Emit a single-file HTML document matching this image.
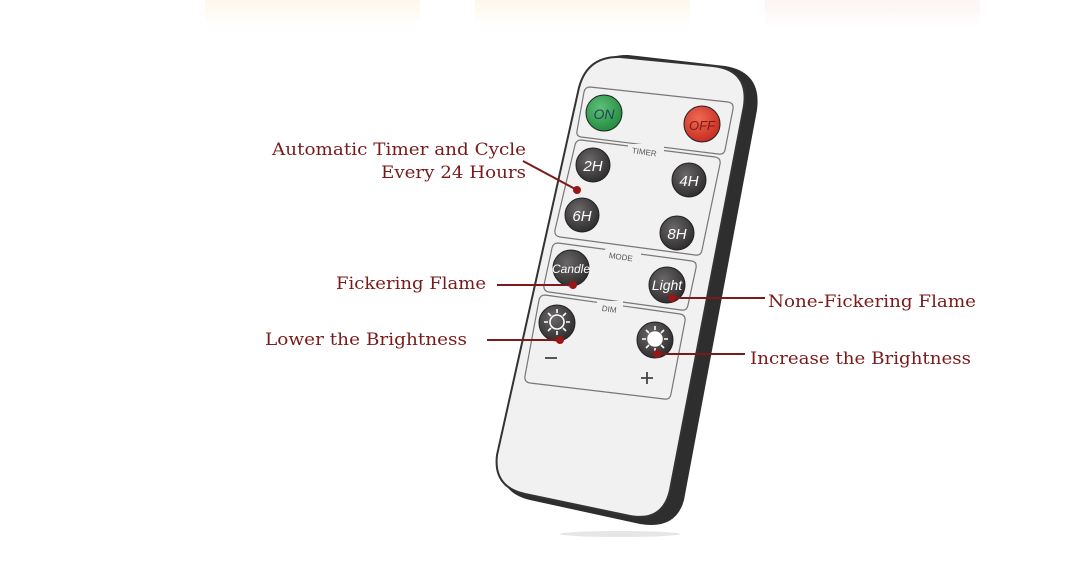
<!DOCTYPE html>
<html><head><style>
body{margin:0;width:1080px;height:583px;background:#fff;overflow:hidden;}
svg{display:block}
</style></head><body>
<svg width="1080" height="583" viewBox="0 0 1080 583" xmlns="http://www.w3.org/2000/svg">
<defs>
<linearGradient id="t1" x1="0" y1="0" x2="0" y2="1"><stop offset="0" stop-color="#fdf8ea"/><stop offset="1" stop-color="#fff"/></linearGradient>
<linearGradient id="t3" x1="0" y1="0" x2="0" y2="1"><stop offset="0" stop-color="#fbf4f2"/><stop offset="1" stop-color="#fff"/></linearGradient>
<radialGradient id="g" cx="0.4" cy="0.35" r="0.7"><stop offset="0" stop-color="#5fbf7a"/><stop offset="1" stop-color="#1f8a3c"/></radialGradient>
<radialGradient id="r" cx="0.4" cy="0.35" r="0.7"><stop offset="0" stop-color="#f06a55"/><stop offset="1" stop-color="#c42a1e"/></radialGradient>
<radialGradient id="k" cx="0.4" cy="0.35" r="0.7"><stop offset="0" stop-color="#6a6868"/><stop offset="1" stop-color="#2c2a2a"/></radialGradient>
</defs>
<rect x="205" y="0" width="215" height="28" fill="url(#t1)"/>
<rect x="475" y="0" width="215" height="28" fill="url(#t1)"/>
<rect x="765" y="0" width="215" height="28" fill="url(#t3)"/>
<ellipse cx="620" cy="534" rx="60" ry="3" fill="#e6e6e6"/>
<path d="M628,55 L725,66 Q762,72 757,110 L684,500 Q676,530 640,524 L530,500 Q497,492 502,460 L586,92 Q593,54 628,55 Z" fill="#2e2e2e"/>
<path d="M620,57 L713,66 Q749,70 744,106 L670,490 Q663,522 630,516 L525,494 Q493,487 497,455 L578,92 Q585,56 620,57 Z" fill="#f1f1f1" stroke="#333" stroke-width="2"/>
<g fill="none" stroke="#777" stroke-width="1.2">
<path d="M590,87 L728,102 Q734,103 733,109 L725,150 Q724,155 718,154 L581,137 Q576,136 577,131 L584,92 Q585,87 590,87 Z"/>
<path d="M581,140 L715,157 Q721,158 720,164 L702,250 Q701,256 695,255 L560,237 Q554,236 555,230 L575,145 Q576,140 581,140 Z"/>
<path d="M558,243 L692,261 Q697,262 696,268 L688,305 Q687,311 681,310 L549,292 Q543,291 544,285 L552,248 Q553,243 558,243 Z"/>
<path d="M545,295 L680,314 Q686,315 685,321 L671,394 Q670,400 664,399 L530,383 Q524,382 525,376 L539,300 Q540,295 545,295 Z"/>
</g>
<g font-family="Liberation Sans, sans-serif" font-size="8" fill="#555">
<rect x="628" y="144" width="36" height="10" fill="#f1f1f1"/><text x="632" y="155" transform="rotate(8 646 151)">TIMER</text>
<rect x="605" y="249" width="36" height="10" fill="#f1f1f1"/><text x="609" y="260" transform="rotate(8 623 256)">MODE</text>
<rect x="597" y="301" width="26" height="10" fill="#f1f1f1"/><text x="602" y="312" transform="rotate(8 610 308)">DIM</text>
</g>
<g stroke="#222" stroke-width="1">
<circle cx="604" cy="113" r="18" fill="url(#g)"/>
<circle cx="702" cy="124" r="18" fill="url(#r)"/>
<circle cx="593" cy="165" r="17" fill="url(#k)"/>
<circle cx="689" cy="180" r="17" fill="url(#k)"/>
<circle cx="582" cy="215" r="17" fill="url(#k)"/>
<circle cx="677" cy="233" r="17" fill="url(#k)"/>
<circle cx="571" cy="268" r="18" fill="url(#k)"/>
<circle cx="667" cy="285" r="18" fill="url(#k)"/>
<circle cx="557" cy="323" r="18" fill="url(#k)"/>
<circle cx="655" cy="340" r="18" fill="url(#k)"/>
</g>
<g font-family="Liberation Sans, sans-serif" font-style="italic" font-size="15" fill="#fff" text-anchor="middle">
<text x="604" y="119" fill="#245" font-size="14">ON</text>
<text x="702" y="130" fill="#7a1a12" font-size="13">OFF</text>
<text x="593" y="171">2H</text>
<text x="689" y="186">4H</text>
<text x="582" y="221">6H</text>
<text x="677" y="239">8H</text>
<text x="571" y="273" font-size="12">Candle</text>
<text x="667" y="290" font-size="14">Light</text>
</g>
<g stroke="#fff" stroke-width="1.6" fill="none">
<circle cx="557" cy="322" r="7"/>
<path d="M557,309v4M557,331v4M544,322h4M566,322h4M548,313l3,3M563,328l3,3M566,313l-3,3M551,328l-3,3"/>
<circle cx="655" cy="339" r="7" fill="#fff"/>
<path d="M655,326v4M655,348v4M642,339h4M664,339h4M646,330l3,3M661,345l3,3M664,330l-3,3M649,345l-3,3"/>
</g>
<g stroke="#444" stroke-width="1.8"><path d="M545,358h12"/><path d="M641,378h12M647,372v12"/></g>
<g stroke="#7a1a1a" stroke-width="2" fill="none">
<path d="M523,161 L577,190"/>
<path d="M497,285 H573"/>
<path d="M672,298 H765"/>
<path d="M487,340 H560"/>
<path d="M657,354 H745"/>
</g>
<g fill="#9a1515">
<circle cx="577" cy="190" r="4"/><circle cx="573" cy="285" r="4"/><circle cx="672" cy="298" r="4"/><circle cx="560" cy="340" r="4"/><circle cx="657" cy="354" r="4"/>
</g>
<g font-family="DejaVu Serif, serif" font-size="17" fill="#7a1a1a" lengthAdjust="spacingAndGlyphs">
<text x="272" y="155" textLength="254" lengthAdjust="spacingAndGlyphs">Automatic Timer and Cycle</text>
<text x="381" y="178" textLength="145" lengthAdjust="spacingAndGlyphs">Every 24 Hours</text>
<text x="336" y="289" textLength="150" lengthAdjust="spacingAndGlyphs">Fickering Flame</text>
<text x="768" y="307" textLength="208" lengthAdjust="spacingAndGlyphs">None-Fickering Flame</text>
<text x="265" y="345" textLength="202" lengthAdjust="spacingAndGlyphs">Lower the Brightness</text>
<text x="750" y="364" textLength="221" lengthAdjust="spacingAndGlyphs">Increase the Brightness</text>
</g>
</svg>
</body></html>
